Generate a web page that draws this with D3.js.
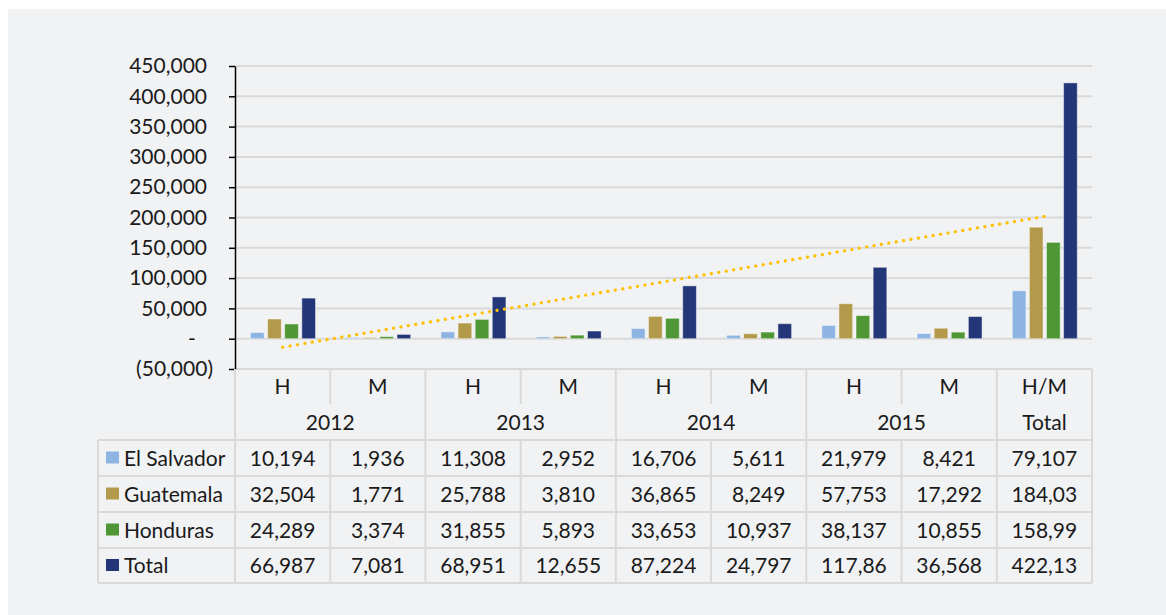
<!DOCTYPE html>
<html>
<head>
<meta charset="utf-8">
<script src="https://cdn.jsdelivr.net/npm/d3@7"></script>
<style>
  body { margin: 0; background: #ffffff; }
  text { font-family: Lato, "Open Sans", sans-serif; fill: #1a1a1a; }
</style>
</head>
<body>
<div id="chart"></div>
<script>
// categories (sex per year) and the year groups under them
var categories = ["H", "M", "H", "M", "H", "M", "H", "M", "H/M"];
var years = ["2012", "2013", "2014", "2015", "Total"];
var series = ["El Salvador", "Guatemala", "Honduras", "Total"];
var colors = ["#8EB4E3", "#B3994A", "#4F9634", "#233778"];

var elSalvador = [10194, 1936, 11308, 2952, 16706, 5611, 21979, 8421, 79107];
var guatemala  = [32504, 1771, 25788, 3810, 36865, 8249, 57753, 17292, 184030];
var honduras   = [24289, 3374, 31855, 5893, 33653, 10937, 38137, 10855, 158990];
var total      = [66987, 7081, 68951, 12655, 87224, 24797, 117860, 36568, 422130];

var yTicks = [-50000, 0, 50000, 100000, 150000, 200000, 250000, 300000, 350000, 400000, 450000];

var values = [elSalvador, guatemala, honduras, total];

var W = 1166, H = 615;
var plotLeft = 235, plotRight = 1092, plotTop = 66, plotBottom = 369;
var rowH = [369, 404, 440, 476, 512, 548, 583];
var legendLeft = 98;
var gridColor = "#D9D9D9";

var svg = d3.select("#chart")
    .append("svg")
    .attr("width", W)
    .attr("height", H);

svg.append("rect")
    .attr("x", 8).attr("y", 9)
    .attr("width", W - 8).attr("height", H - 9)
    .style("fill", "#F1F2F4");

var x = d3.scaleBand()
    .domain(d3.range(categories.length))
    .range([plotLeft, plotRight]);

var step = x.step();

var xs = d3.scaleBand()
    .domain(series)
    .range([15.5, 80.5])
    .paddingInner(0.2);

var y = d3.scaleLinear()
    .domain([-50000, 450000])
    .range([plotBottom, plotTop]);

// gridlines
svg.append("g").selectAll("line")
    .data(yTicks)
    .join("line")
    .attr("x1", plotLeft).attr("x2", plotRight)
    .attr("y1", function(d) { return y(d); })
    .attr("y2", function(d) { return y(d); })
    .style("stroke", gridColor)
    .style("stroke-width", 2);

// y axis
var fmt = d3.format(",");
var yAxis = svg.append("g")
    .attr("transform", "translate(" + plotLeft + ",0)")
    .call(d3.axisLeft(y)
        .tickValues(yTicks)
        .tickSize(6)
        .tickSizeOuter(0)
        .tickFormat(function(d) {
            if (d == 0) return "-";
            if (d < 0) return "(" + fmt(-d) + ")";
            return fmt(d);
        }));

yAxis.select(".domain").style("stroke", "#000").style("stroke-width", 1.5);
yAxis.selectAll(".tick line").style("stroke", "#000").style("stroke-width", 1.5);
yAxis.selectAll(".tick text")
    .style("font-size", "21px")
    .style("font-family", "Lato, sans-serif")
    .style("fill", "#1a1a1a")
    .attr("x", function(d) {
        if (d == 0) return -43;
        if (d < 0) return -22;
        return -28;
    })
    .attr("text-anchor", function(d) { return d == 0 ? "middle" : "end"; });

// bars
series.forEach(function(s, si) {
    svg.append("g").selectAll("rect")
        .data(values[si])
        .join("rect")
        .attr("x", function(d, i) { return x(i) + xs(s); })
        .attr("width", xs.bandwidth())
        .attr("y", function(d) { return y(Math.max(0, d)); })
        .attr("height", function(d) { return Math.abs(y(d) - y(0)); })
        .style("fill", colors[si])
        .style("stroke", "rgba(255,255,255,0.45)")
        .style("stroke-width", 1);
});

// linear trend of the Total series
var n = total.length;
var mx = d3.mean(d3.range(n));
var my = d3.mean(total);
var slope = d3.sum(total, function(d, i) { return (i - mx) * (d - my); }) /
            d3.sum(d3.range(n), function(i) { return (i - mx) * (i - mx); });
var trend = [0, n - 1].map(function(i) { return [i, my + slope * (i - mx)]; });

svg.append("path")
    .datum(trend)
    .attr("d", d3.line()
        .x(function(d) { return x(d[0]) + step / 2; })
        .y(function(d) { return y(d[1]); }))
    .style("fill", "none")
    .style("stroke", "#FFC000")
    .style("stroke-width", 3.2)
    .style("stroke-linecap", "round")
    .style("stroke-dasharray", "0.1 7.4");

// data table
var tbl = svg.append("g");

function hline(x1, x2, yy) {
    tbl.append("line").attr("x1", x1).attr("x2", x2).attr("y1", yy).attr("y2", yy)
        .style("stroke", gridColor).style("stroke-width", 2);
}
function vline(xx, y1, y2) {
    tbl.append("line").attr("x1", xx).attr("x2", xx).attr("y1", y1).attr("y2", y2)
        .style("stroke", gridColor).style("stroke-width", 2);
}

for (var r = 2; r < rowH.length; r++) hline(legendLeft, plotRight, rowH[r]);
vline(legendLeft, rowH[2], rowH[6]);
for (var k = 0; k <= categories.length; k++) {
    var xx = plotLeft + k * step;
    if (k % 2 == 1 && k < categories.length) {
        vline(xx, rowH[0], rowH[1]);
        vline(xx, rowH[2], rowH[6]);
    } else {
        vline(xx, rowH[0], rowH[6]);
    }
}

// H / M row
tbl.append("g").selectAll("text")
    .data(categories)
    .join("text")
    .attr("x", function(d, i) { return x(i) + step / 2; })
    .attr("y", (rowH[0] + rowH[1]) / 2)
    .attr("dy", "0.36em")
    .attr("text-anchor", "middle")
    .style("font-size", "21px")
    .text(function(d) { return d; });

// year row
tbl.append("g").selectAll("text")
    .data(years)
    .join("text")
    .attr("x", function(d, i) {
        return i < 4 ? x(2 * i) + step : x(8) + step / 2;
    })
    .attr("y", (rowH[1] + rowH[2]) / 2)
    .attr("dy", "0.36em")
    .attr("text-anchor", "middle")
    .style("font-size", "21px")
    .text(function(d) { return d; });

// series rows (cells are too narrow for 7 characters, so they get clipped)
series.forEach(function(s, si) {
    var cy = (rowH[si + 2] + rowH[si + 3]) / 2;
    tbl.append("rect")
        .attr("x", 106).attr("y", cy - 6.5)
        .attr("width", 13).attr("height", 12)
        .style("fill", colors[si]);
    tbl.append("text")
        .attr("x", 124).attr("y", cy)
        .attr("dy", "0.36em")
        .style("font-size", "21px")
        .text(s);
    tbl.append("g").selectAll("text")
        .data(values[si])
        .join("text")
        .attr("x", function(d, i) { return x(i) + step / 2; })
        .attr("y", cy)
        .attr("dy", "0.36em")
        .attr("text-anchor", "middle")
        .style("font-size", "21px")
        .text(function(d) { return fmt(d).slice(0, 6); });
});
</script>
</body>
</html>
